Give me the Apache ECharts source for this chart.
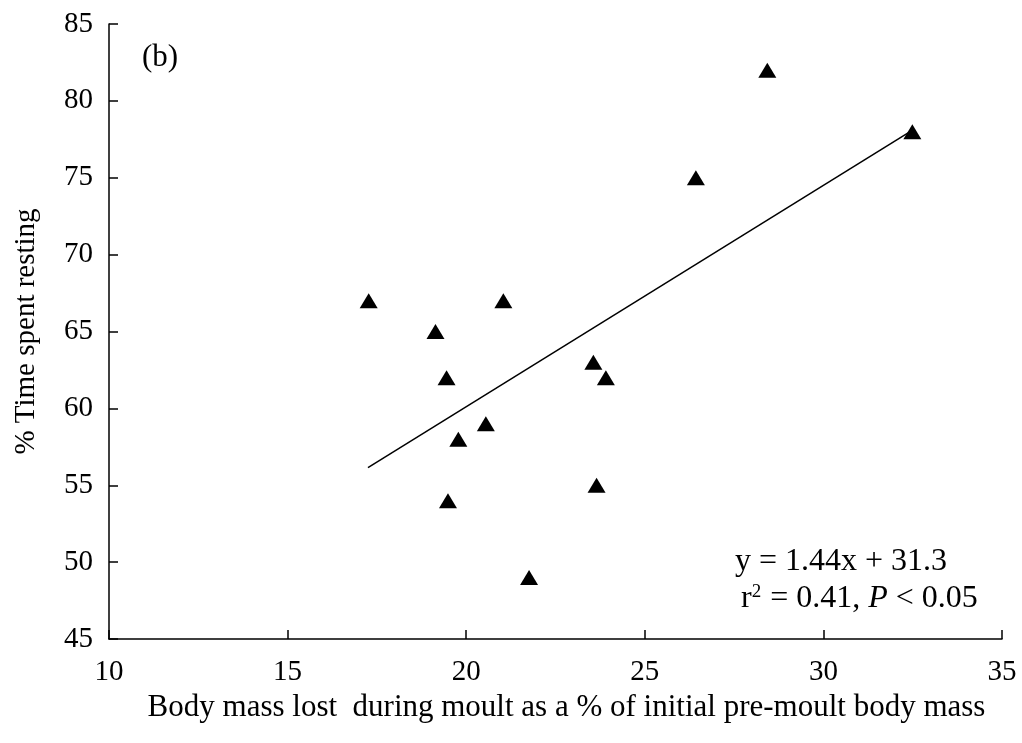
<!DOCTYPE html>
<html>
<head>
<meta charset="utf-8">
<style>
  html, body { margin: 0; padding: 0; background: #fff; }
  #chart { width: 1022px; height: 743px; }
</style>
<script src="https://cdn.jsdelivr.net/npm/echarts@6/dist/echarts.min.js"></script>
</head>
<body>
<div id="chart"></div>
<script>
// Body mass lost during moult (% of initial mass) vs % time spent resting
const massLost = [17.27, 19.14, 19.45, 19.49, 19.78, 20.55, 21.04, 21.76, 23.56, 23.65, 23.91, 26.43, 28.43, 32.49];
const timeResting = [67, 65, 62, 54, 58, 59, 67, 49, 63, 55, 62, 75, 82, 78];

// Least-squares fit as reported on the chart
const fitSlope = 1.44;
const fitIntercept = 31.3;
const fitRange = [17.25, 32.45];

const xTicks = [10, 15, 20, 25, 30, 35];
const yTicks = [45, 50, 55, 60, 65, 70, 75, 80, 85];

const points = massLost.map((x, i) => [x, timeResting[i]]);
const fitLine = fitRange.map(x => [x, fitSlope * x + fitIntercept]);

const serif = '"Liberation Serif", "Times New Roman", serif';
const axisStyle = { color: '#000', width: 1.5 };

const chart = echarts.init(document.getElementById('chart'), null, { renderer: 'canvas' });
chart.setOption({
  animation: false,
  backgroundColor: '#fff',
  grid: { left: 109, right: 20, top: 24, bottom: 104 },
  xAxis: {
    type: 'value',
    min: xTicks[0],
    max: xTicks[xTicks.length - 1],
    interval: xTicks[1] - xTicks[0],
    name: 'Body mass lost  during moult as a % of initial pre-moult body mass',
    nameLocation: 'middle',
    nameGap: 40,
    nameTextStyle: { fontFamily: serif, fontSize: 31, color: '#000', padding: [0, 0, 0, 22] },
    axisLine: { show: true, lineStyle: axisStyle },
    axisTick: { show: true, inside: true, length: 9, lineStyle: axisStyle },
    axisLabel: { fontFamily: serif, fontSize: 29, color: '#000', margin: 19 },
    splitLine: { show: false }
  },
  yAxis: {
    type: 'value',
    min: yTicks[0],
    max: yTicks[yTicks.length - 1],
    interval: yTicks[1] - yTicks[0],
    name: '% Time spent resting',
    nameLocation: 'middle',
    nameGap: 68,
    nameTextStyle: { fontFamily: serif, fontSize: 29, color: '#000' },
    axisLine: { show: true, lineStyle: axisStyle },
    axisTick: { show: true, inside: true, length: 9, lineStyle: axisStyle },
    axisLabel: { fontFamily: serif, fontSize: 29, color: '#000', margin: 16 },
    splitLine: { show: false }
  },
  series: [
    {
      type: 'line',
      data: fitLine,
      showSymbol: false,
      symbol: 'none',
      lineStyle: { color: '#000', width: 1.5 },
      z: 2
    },
    {
      type: 'scatter',
      data: points,
      symbol: 'triangle',
      symbolSize: [18, 15],
      itemStyle: { color: '#000', opacity: 1 },
      z: 3
    }
  ],
  graphic: [
    {
      type: 'text',
      x: 142,
      y: 58,
      style: { text: '(b)', font: '31px ' + serif, fill: '#000', verticalAlign: 'middle' }
    },
    {
      type: 'text',
      x: 735,
      y: 562,
      style: { text: 'y = 1.44x + 31.3', font: '32px ' + serif, fill: '#000', verticalAlign: 'middle' }
    },
    {
      type: 'text',
      x: 741,
      y: 599,
      style: {
        text: '{n|r}{s|2}{n| = 0.41, }{i|P}{n| < 0.05}',
        verticalAlign: 'middle',
        rich: {
          n: { fontFamily: serif, fontSize: 32, fill: '#000', verticalAlign: 'bottom' },
          s: { fontFamily: serif, fontSize: 19, fill: '#000', verticalAlign: 'top', lineHeight: 8, padding: [0, 1, 0, 0] },
          i: { fontFamily: serif, fontSize: 32, fontStyle: 'italic', fill: '#000', verticalAlign: 'bottom' }
        }
      }
    }
  ]
});
</script>
</body>
</html>
